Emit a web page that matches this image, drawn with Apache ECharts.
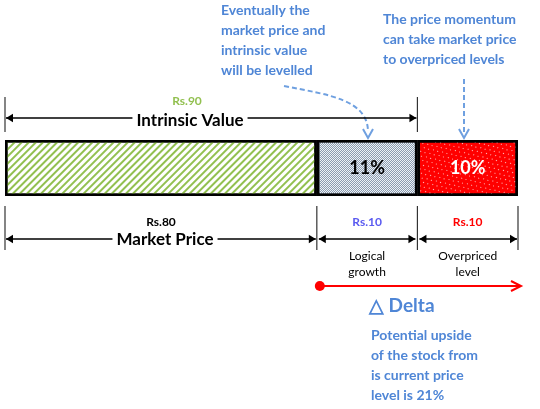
<!DOCTYPE html>
<html>
<head>
<meta charset="utf-8">
<script src="https://cdn.jsdelivr.net/npm/echarts@6/dist/echarts.min.js"></script>
<style>html,body{margin:0;padding:0;background:#fff}#chart{width:540px;height:409px}</style>
</head>
<body>
<div id="chart"></div>
<script>
// segments as laid out in the figure (drawn span) and the rupee values they stand for
const segments = ['Market price', 'Logical growth', 'Overpriced level'];
const segmentSpan = [62, 20, 20];
const segmentRs = [80, 10, 10];
const segmentPct = ['', '11%', '10%'];
const intrinsicRs = 90;
const deltaPct = 21;

const F = 'Lato, "Open Sans", sans-serif';
const BLUE = '#4f86d6';
const chart = echarts.init(document.getElementById('chart'));

const fills = [
  {color: '#fff', decal: {symbol: 'rect', color: '#92c050', dashArrayX: [1, 0], dashArrayY: [2, 3], rotation: -Math.PI / 4, symbolSize: 1}},
  {color: '#eef2f6', decal: {symbol: 'rect', color: '#8a9bb0', dashArrayX: [[1, 1], [0, 1, 1, 0]], dashArrayY: [1, 0], symbolSize: 1}},
  {color: '#ff0000', decal: {symbol: 'circle', color: '#fff', dashArrayX: [[1, 4], [0, 2, 1, 2]], dashArrayY: [1, 3], symbolSize: 1}}
];

const series = segments.map((name, i) => ({
  name, type: 'bar', stack: 'all', barWidth: 56,
  data: [segmentSpan[i]],
  itemStyle: Object.assign({borderColor: '#000', borderWidth: 2.5}, fills[i]),
  label: {show: !!segmentPct[i], position: 'inside', formatter: segmentPct[i],
    color: i === 2 ? '#fff' : '#000', fontSize: 18, fontWeight: 'bold', fontFamily: F}
}));

const total = segmentSpan.reduce((a, b) => a + b, 0);
const L = 5, R = 518;
const px = v => L + (R - L) * v / total;
const x1 = px(segmentSpan[0]), x2 = px(segmentSpan[0] + segmentSpan[1]);

const g = [];
function text(x, y, s, color, size, bold, align, bg) {
  g.push({type: 'text', x, y, style: {text: s, fill: color, fontSize: size, fontWeight: bold ? 'bold' : 'normal',
    fontFamily: F, align: align || 'center', verticalAlign: 'middle', backgroundColor: bg, padding: bg ? [0, 4] : 0}, z: 10});
}
function head(x, y, dir, color, s) {
  s = s || 7;
  g.push({type: 'polygon', shape: {points: dir > 0 ? [[x, y], [x - s, y - s * 0.6], [x - s, y + s * 0.6]] : [[x, y], [x + s, y - s * 0.6], [x + s, y + s * 0.6]]},
    style: {fill: color}, z: 5});
}
function dim(a, b, y, color, w) {
  g.push({type: 'line', shape: {x1: a, y1: y, x2: b, y2: y}, style: {stroke: color, lineWidth: w || 1.5}, z: 4});
  head(a, y, -1, color); head(b, y, 1, color);
}
function vline(x, ya, yb) {
  g.push({type: 'line', shape: {x1: x, y1: ya, x2: x, y2: yb}, style: {stroke: '#333', lineWidth: 1.2}});
}

// intrinsic value
vline(L, 97, 132); vline(x2, 97, 132);
dim(L + 1, x2 - 1, 118, '#000');
text(187, 101, 'Rs.' + intrinsicRs, '#92c050', 12, true);
text(190, 121, 'Intrinsic Value', '#000', 17, true, 'center', '#fff');

// bottom dimensions
[L, x1, x2, R].forEach(x => vline(x, 206, 250));
dim(L + 1, x1 - 1, 239, '#000');
dim(x1 + 2, x2 - 2, 239, '#000');
dim(x2 + 2, R - 1, 239, '#000');
text(161, 222, 'Rs.' + segmentRs[0], '#000', 12, true);
text(165, 240, 'Market Price', '#000', 17, true, 'center', '#fff');
text((x1 + x2) / 2, 222, 'Rs.' + segmentRs[1], '#5a5af0', 12, true);
text((x1 + x2) / 2, 256, 'Logical', '#000', 12);
text((x1 + x2) / 2, 272, 'growth', '#000', 12);
text((x2 + R) / 2, 222, 'Rs.' + segmentRs[2], '#ff0000', 12, true);
text((x2 + R) / 2, 256, 'Overpriced', '#000', 12);
text((x2 + R) / 2, 272, 'level', '#000', 12);

// delta arrow
g.push({type: 'line', shape: {x1: x1 + 2, y1: 286, x2: 520, y2: 286}, style: {stroke: '#ff0000', lineWidth: 2}});
g.push({type: 'circle', shape: {cx: x1 + 3, cy: 286, r: 5}, style: {fill: '#ff0000'}});
g.push({type: 'polyline', shape: {points: [[511, 281], [521, 286], [511, 291]]}, style: {stroke: '#ff0000', lineWidth: 2, fill: null}});
text(369, 306, '\u25B3 Delta', BLUE, 19, true, 'left');
['Potential upside', 'of the stock from', 'is current price', 'level is ' + deltaPct + '%'].forEach((s, i) =>
  text(371, 335 + i * 20, s, BLUE, 14, true, 'left'));

// top callouts
['Eventually the', 'market price and', 'intrinsic value', 'will be levelled'].forEach((s, i) =>
  text(221, 10 + i * 20, s, BLUE, 14, true, 'left'));
['The price momentum', 'can take market price', 'to overpriced levels'].forEach((s, i) =>
  text(383, 19 + i * 20, s, BLUE, 14, true, 'left'));
g.push({type: 'bezierCurve', shape: {x1: 284, y1: 86, cpx1: 330, cpy1: 95, cpx2: 368, cpy2: 100, x2: 368, y2: 132},
  style: {stroke: '#6fa0e0', lineWidth: 2, lineDash: [5, 3], fill: null}});
g.push({type: 'line', shape: {x1: 464, y1: 79, x2: 464, y2: 132}, style: {stroke: '#6fa0e0', lineWidth: 2, lineDash: [5, 3]}});
[368, 464].forEach(x => g.push({type: 'polyline', shape: {points: [[x - 5, 129], [x, 138], [x + 5, 129]]},
  style: {stroke: '#6fa0e0', lineWidth: 2, fill: null}}));

chart.setOption({
  animation: false,
  aria: {enabled: true, decal: {show: true}},
  grid: {left: L, right: 540 - R, top: 140, height: 56},
  xAxis: {type: 'value', min: 0, max: total, show: false},
  yAxis: {type: 'category', data: ['price'], show: false},
  series,
  graphic: g
});
</script>
</body>
</html>
